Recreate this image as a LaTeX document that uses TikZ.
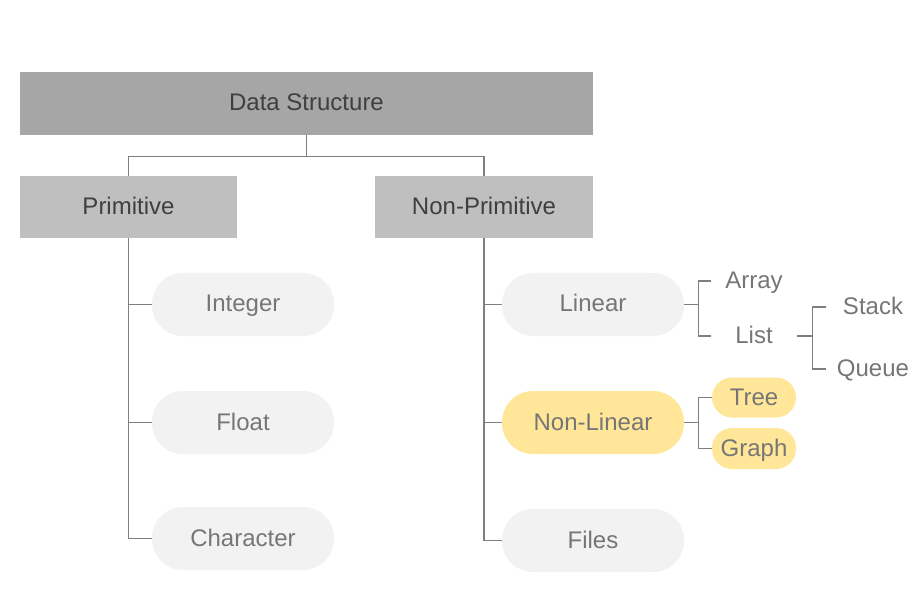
\documentclass[tikz,border=0pt]{standalone}
\usepackage{fontspec}
\setmainfont{Liberation Sans}
\definecolor{dsfill}{HTML}{A6A6A6}
\definecolor{boxfill}{HTML}{BFBFBF}
\definecolor{pillfill}{HTML}{F2F2F2}
\definecolor{yelfill}{HTML}{FFE699}
\definecolor{darktxt}{HTML}{3F3F3F}
\definecolor{graytxt}{HTML}{767676}
\definecolor{linecol}{HTML}{7F7F7F}
\tikzset{
  txt/.style={font=\fontsize{24}{27}\selectfont, text height=17pt, text depth=2pt},
  hdr/.style={rectangle, inner sep=0pt, text=darktxt, txt},
  pill/.style={rectangle, rounded corners=31pt, fill=pillfill, minimum width=182pt, minimum height=63pt, inner sep=0pt, text=graytxt, txt},
  smallpill/.style={rectangle, rounded corners=20pt, fill=yelfill, minimum width=84pt, minimum height=40pt, inner sep=0pt, text=graytxt, txt},
  leaf/.style={rectangle, inner sep=0pt, minimum height=30pt, text=graytxt, txt},
  conn/.style={draw=linecol, line width=1.2pt}
}
\begin{document}
\begin{tikzpicture}[x=1pt,y=-1pt]
\useasboundingbox (0,0) rectangle (924,596);
\node[hdr, fill=dsfill, minimum width=573pt, minimum height=63pt] (ds) at (306.5,103.5) {Data Structure};
\node[hdr, fill=boxfill, minimum width=217pt, minimum height=62pt] (prim) at (128.5,207) {Primitive};
\node[hdr, fill=boxfill, minimum width=218pt, minimum height=62pt] (nonp) at (484,207) {Non-Primitive};

\node[pill] (int) at (243,304.5) {Integer};
\node[pill] (flt) at (243,422.5) {Float};
\node[pill] (chr) at (243,538.5) {Character};

\node[pill] (lin) at (593,304.5) {Linear};
\node[pill, fill=yelfill] (nlin) at (593,422.5) {Non-Linear};
\node[pill] (fil) at (593,540.5) {Files};

\node[smallpill] (tree) at (754,397.5) {Tree};
\node[smallpill, minimum height=41pt] (graph) at (754,448.5) {Graph};

\node[leaf, minimum width=86pt] (arr) at (754,281) {Array};
\node[leaf, minimum width=86pt] (lst) at (754,336) {List};
\node[leaf, minimum width=94pt] (stk) at (873,307) {Stack};
\node[leaf, minimum width=94pt] (que) at (873,369) {Queue};

% top connectors
\draw[conn] (ds.south) -- ++(0,21) coordinate (tj);
\draw[conn] (prim.north) |- (tj) -| (nonp.north);

% primitive branch
\draw[conn] (prim.south) -- (prim.south |- chr.west) -- (chr.west);
\draw[conn] (prim.south |- int.west) -- (int.west);
\draw[conn] (prim.south |- flt.west) -- (flt.west);

% non-primitive branch
\draw[conn] (nonp.south) -- (nonp.south |- fil.west) -- (fil.west);
\draw[conn] (nonp.south |- lin.west) -- (lin.west);
\draw[conn] (nonp.south |- nlin.west) -- (nlin.west);

% linear bracket
\draw[conn] (lin.east) -- ++(14,0) coordinate (lj);
\draw[conn] (arr.west) -| (lj) |- (lst.west);

% list bracket
\draw[conn] (lst.east) -- ++(15,0) coordinate (sj);
\draw[conn] (stk.west) -| (sj) |- (que.west);

% non-linear bracket
\draw[conn] (nlin.east) -- ++(14,0) coordinate (nj);
\draw[conn] (tree.west) -| (nj) |- (graph.west);
\end{tikzpicture}
\end{document}
